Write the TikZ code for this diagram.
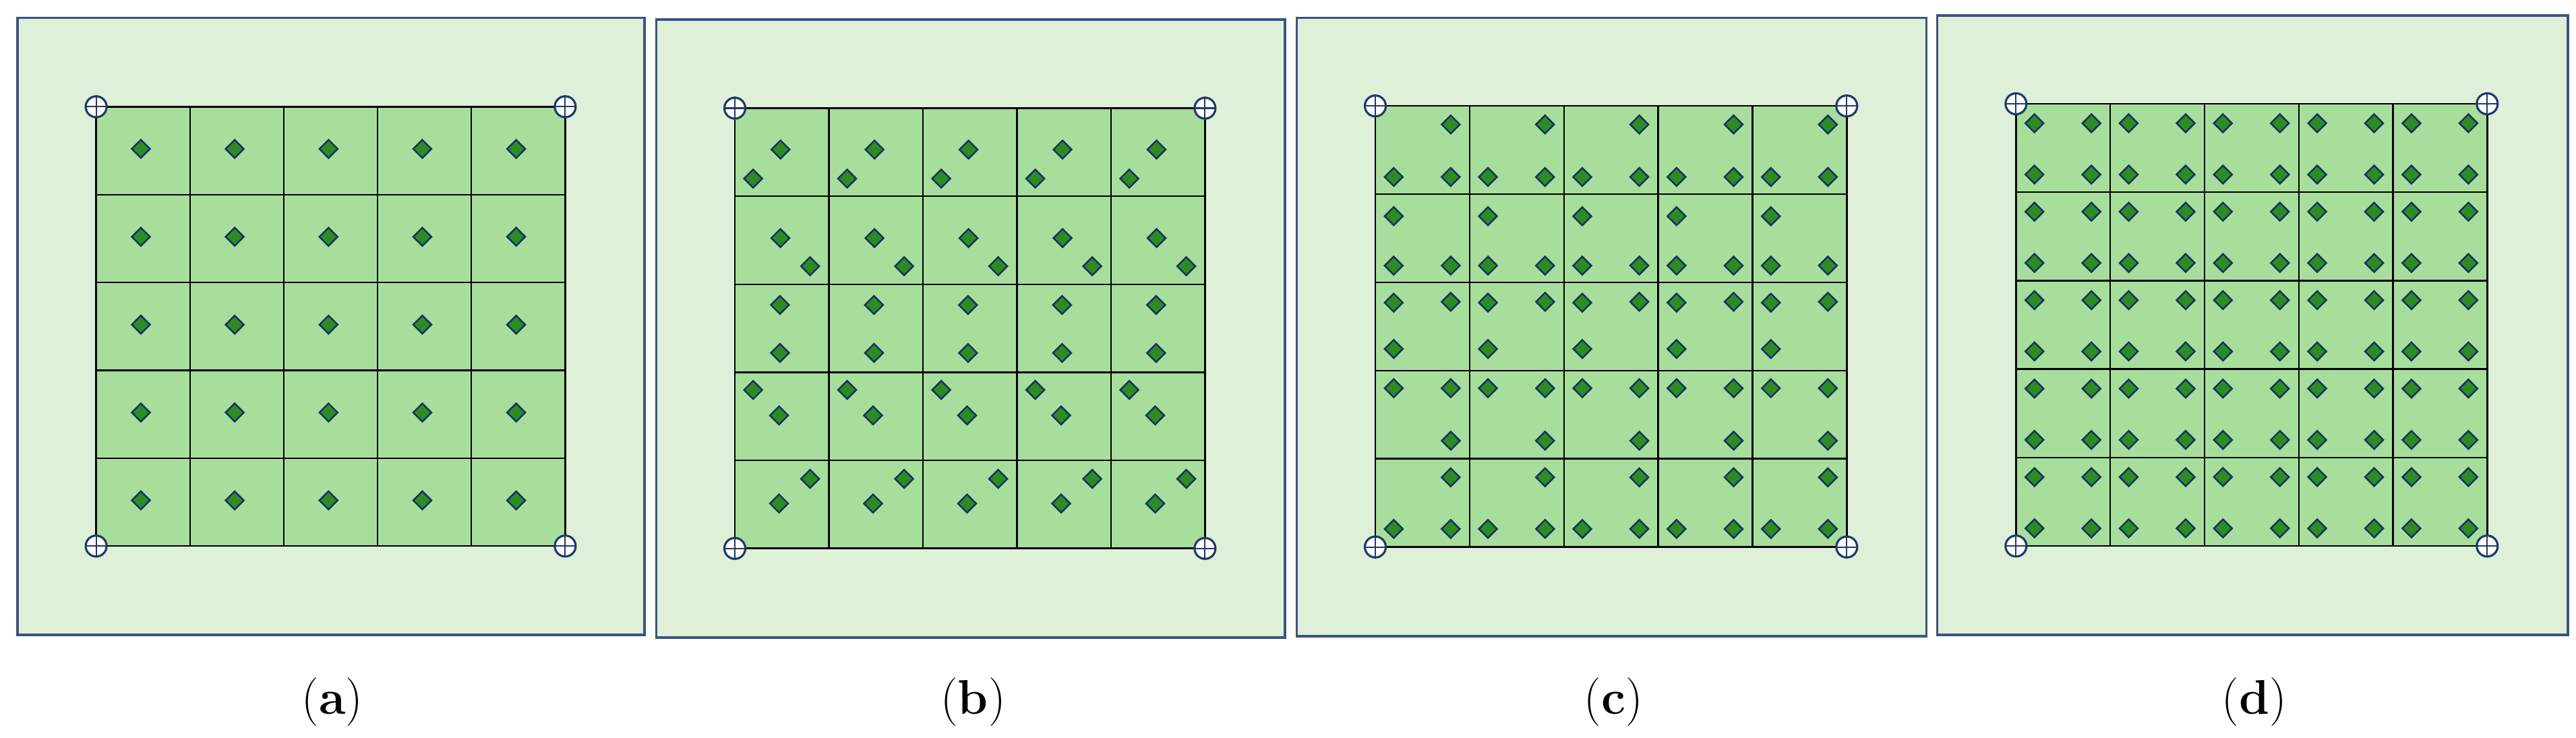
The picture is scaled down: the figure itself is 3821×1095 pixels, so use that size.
\documentclass[tikz,border=0pt]{standalone}
\usepackage{fontspec}
\usetikzlibrary{shapes.geometric}
\definecolor{outerfill}{HTML}{DFF0D9}
\definecolor{outerline}{HTML}{3A5580}
\definecolor{cellfill}{HTML}{A7DE9C}
\definecolor{diafill}{HTML}{2E8B24}
\definecolor{dialine}{HTML}{143260}
\definecolor{ringline}{HTML}{1E3A6C}
\tikzset{
  outerbox/.style={fill=outerfill,draw=outerline,line width=1.1pt},
  gridline/.style={draw=black,line width=0.7pt},
  dia/.style={diamond,aspect=1,minimum size=0.28cm,inner sep=0pt,fill=diafill,draw=dialine,line width=0.7pt},
  ring/.style={circle,minimum size=0.31cm,inner sep=0pt,fill=white,draw=ringline,line width=0.9pt},
  ringcross/.style={draw=ringline,line width=0.6pt,shorten <=0.45pt,shorten >=0.45pt},
  lab/.style={inner sep=0pt,font=\fontsize{20.5}{24}\selectfont}
}
\newcommand\GridPanel[9]{%
  \pgfmathsetmacro\gx{#6}\pgfmathsetmacro\gy{#7}%
  \pgfmathsetmacro\cw{(#8-#6)/5}\pgfmathsetmacro\ch{(#9-#7)/5}%
  \draw[outerbox] (#2,#3) rectangle (#4,#5);
  \fill[cellfill] (#6,#7) rectangle (#8,#9);
  \foreach \i in {0,...,5}{%
    \draw[gridline] ({#6+\i*\cw},#7) -- ({#6+\i*\cw},#9);
    \draw[gridline] (#6,{#7+\i*\ch}) -- (#8,{#7+\i*\ch});
  }%
}
\newcommand\DiaRow[3]{%
  \foreach \c in {0,...,4}{%
    \foreach \fx/\fy [count=\k] in {#3}{%
      \node[dia] (#1-#2-\c-\k) at ({\gx+(\c+\fx)*\cw},{\gy+(#2+\fy)*\ch}) {};
    }%
  }%
}
\newcommand\Rings[5]{%
  \foreach \n/\px/\py in {tl/#2/#3,tr/#4/#3,bl/#2/#5,br/#4/#5}{%
    \node[ring] (#1-\n) at (\px,\py) {};
    \draw[ringcross] (#1-\n.north) -- (#1-\n.south) (#1-\n.west) -- (#1-\n.east);
  }%
}
\begin{document}
\begin{tikzpicture}[x=0.01cm,y=-0.01cm]
\useasboundingbox (0,0) rectangle (3821,1095);
% ---------------- panel (a)
\GridPanel{a}{26.3}{26.5}{956}{942}{142.6}{158.4}{838.4}{810.2}
\foreach \r in {0,...,4}{\DiaRow{a}{\r}{0.477/0.48}}
\Rings{a}{142.6}{158.4}{838.4}{810.2}
\node[lab] (la) at (493,1042) {(\textbf{a})};
% ---------------- panel (b)
\GridPanel{b}{973.5}{29.3}{1906}{945.6}{1090}{160.5}{1787.4}{813.7}
\DiaRow{b}{0}{0.485/0.47,0.195/0.80}
\DiaRow{b}{1}{0.485/0.475,0.80/0.795}
\DiaRow{b}{2}{0.48/0.235,0.48/0.78}
\DiaRow{b}{3}{0.195/0.20,0.47/0.49}
\DiaRow{b}{4}{0.80/0.21,0.47/0.49}
\Rings{b}{1090}{160.5}{1787.4}{813.7}
\node[lab] (lb) at (1443.5,1042) {(\textbf{b})};
% ---------------- panel (c)
\GridPanel{c}{1923.5}{26.5}{2857.4}{944.2}{2040}{157.2}{2739.3}{811.6}
\DiaRow{c}{0}{0.80/0.21,0.195/0.805,0.80/0.805}
\DiaRow{c}{1}{0.195/0.25,0.195/0.81,0.80/0.81}
\DiaRow{c}{2}{0.195/0.23,0.80/0.22,0.195/0.755}
\DiaRow{c}{3}{0.195/0.20,0.80/0.20,0.80/0.795}
\DiaRow{c}{4}{0.80/0.21,0.195/0.795,0.80/0.795}
\Rings{c}{2040}{157.2}{2739.3}{811.6}
\node[lab] (lc) at (2393.5,1042) {(\textbf{c})};
% ---------------- panel (d)
\GridPanel{d}{2873.5}{23}{3808.6}{942}{2990.3}{154}{3689.3}{810.2}
\foreach \r in {0,...,4}{\DiaRow{d}{\r}{0.196/0.22,0.80/0.22,0.196/0.80,0.80/0.80}}
\Rings{d}{2990.3}{154}{3689.3}{810.2}
\node[lab] (ld) at (3343.5,1042) {(\textbf{d})};
\end{tikzpicture}
\end{document}
